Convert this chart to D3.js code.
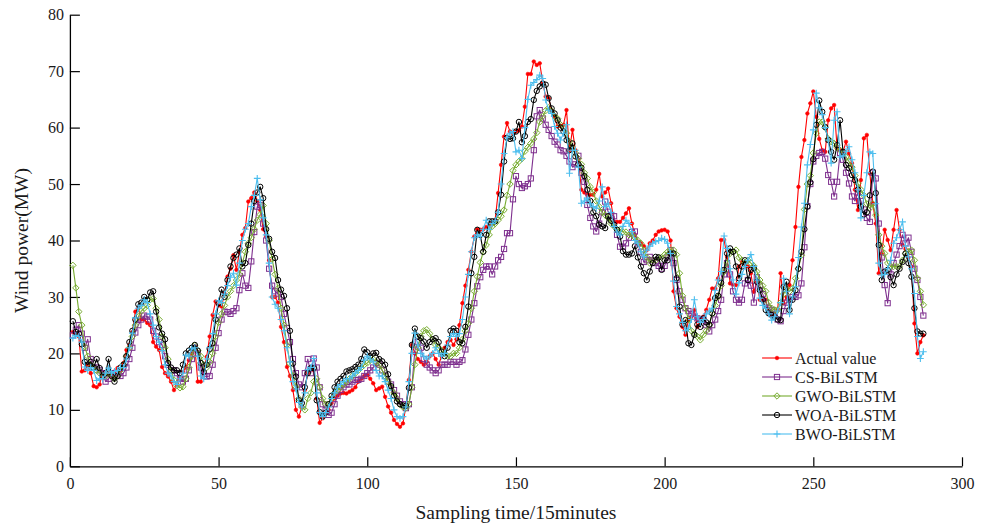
<!DOCTYPE html>
<html>
<head>
<meta charset="utf-8">
<script src="https://cdn.jsdelivr.net/npm/d3@7"></script>
<style>
  html, body { margin: 0; padding: 0; background: #fff; }
  svg { display: block; }
  text { font-family: "Liberation Serif", "Times New Roman", serif; fill: #1a1a1a; }
</style>
</head>
<body>
<svg id="chart" width="989" height="526"></svg>
<script>
// Wind power (MW) per 15-minute sample, samples 1..287
const actual = [
  23.8, 23.5, 23, 16.8, 17, 17.9, 16.5, 14.2, 14, 14.5,
  16.5, 16.3, 16.2, 16, 16.8, 17.4, 17, 18.3, 20.6, 21.5,
  23.8, 27.4, 28, 26, 26, 25.4, 25, 22, 21.2, 20.6,
  17.6, 16.5, 15.9, 15, 13.5, 14.5, 15.5, 16.7, 17.5, 18.8,
  20, 21.2, 15, 15, 17, 19.4, 23, 26.8, 29.2, 28.5,
  28.3, 30.6, 33.6, 35, 37.4, 34.8, 38, 41, 42.2, 46.9,
  47.5, 48.5, 47, 45.4, 42, 40.7, 36.5, 30, 30, 29,
  24.7, 22, 17.6, 16, 13.5, 10, 8.8, 10.5, 13.5, 16.5,
  17.5, 17, 12, 7.7, 8.5, 9.4, 10, 11.2, 12, 12.5,
  12.9, 13, 12.9, 13.2, 13.5, 14, 15, 15.5, 16, 16.2,
  15.5, 14.7, 13.5, 13.8, 14.1, 12.3, 10.6, 9.5, 8.2, 7.5,
  7, 7.6, 10.6, 15.3, 21.5, 20, 19, 18.5, 18, 18.5,
  19.5, 20, 19, 18, 19.5, 21, 22, 22.4, 21.5, 22.5,
  25, 28.9, 32, 34.8, 38, 40.7, 42, 41.9, 42, 42.4,
  42.5, 43, 43.6, 48.4, 53.4, 58.4, 60.8, 59.3, 59, 59.3,
  59.5, 60.2, 63.7, 69.5, 69.5, 71.7, 71.1, 71.4, 68, 65.5,
  65.2, 63, 61.9, 60.2, 60.3, 60.5, 63.1, 56, 59.6, 56,
  54.3, 49, 48.5, 48.1, 48.1, 48.1, 49, 51.8, 47.8, 48.5,
  49.2, 46.6, 43.3, 43.3, 43.3, 44, 44.8, 45.7, 43, 41,
  39.8, 39.5, 39, 38.3, 39.5, 40, 41, 41.6, 41.8, 41.9,
  41.6, 40, 31, 28, 26.5, 24.7, 23.3, 25.9, 26.5, 27.7,
  24.7, 25.9, 26.5, 27.7, 29.5, 31.5, 31.5, 33.3, 40.1, 40.1,
  37.1, 32.4, 32.2, 32.1, 35.4, 36.2, 36, 35.4, 34.2, 30.9,
  32.7, 29.5, 29.5, 29.5, 27.1, 26.5, 27, 27.7, 34.2, 28.9,
  30, 32.1, 36.5, 42.4, 49.5, 54.8, 57.8, 62.5, 64.3, 66.4,
  61.9, 58, 56, 55.7, 61.3, 63.4, 64, 56.3, 56, 55.7,
  57.5, 55.4, 53.7, 49, 45.4, 50.7, 58.1, 58.7, 51.9, 46.6,
  43, 34.2, 37.7, 41.9, 40.1, 38.3, 41.9, 45.4, 41.9, 39.2,
  38.5, 37, 35.4, 25.3, 20, 22, 23.2
];

const csBiLSTM = [
  23.2, 24.2, 25, 23.5, 21, 22.5, 19, 17.5, 17.5, 17,
  16.5, 15, 15.5, 16.5, 16.5, 16, 16, 16.5, 17.5, 19,
  21, 23.7, 25, 26, 26.7, 26.5, 26, 24, 23, 22,
  21.5, 19.5, 18, 17, 17, 16.5, 15.5, 15, 15.5, 17,
  19, 21, 20, 17.5, 16, 15.9, 16, 18, 21, 23.6,
  26, 27.4, 27.3, 27, 27.5, 28, 31.2, 34.2, 32, 31.6,
  36.3, 41.5, 46, 46.3, 43, 40, 35, 32, 31, 30.6,
  30, 27, 24.5, 22, 19, 16.5, 14.5, 14, 16.5, 19,
  16.5, 19.1, 17.5, 14, 11, 10, 9.1, 9.5, 11, 12.5,
  13.5, 14, 14.5, 14.5, 15, 15.3, 15.3, 15.5, 16, 16.5,
  17, 17.5, 18.3, 18, 17, 16, 15, 14.5, 13.5, 12.5,
  11.5, 11, 10.3, 11, 14, 20.5, 22, 21, 19, 18,
  17.5, 17, 16.5, 17, 18, 18, 18, 18.5, 18.5, 18,
  18.5, 18.8, 20.7, 23.3, 26, 28.9, 31.9, 33.5, 34.8, 35.4,
  35.4, 34, 35.4, 36.5, 37.1, 38.5, 41.3, 41.3, 47.3, 51.4,
  50, 49.3, 49.6, 50, 51, 56, 62, 63.1, 61.6, 60.5,
  59.6, 58.5, 57.5, 57, 56, 55.8, 55, 54, 53, 53.5,
  55, 52, 50.4, 46.3, 44, 42.5, 41.6, 43, 45, 46.9,
  45.1, 44.5, 44.3, 41, 38.9, 38.9, 39.5, 40.5, 41.5, 41.6,
  39.5, 38, 36.2, 36.5, 37.1, 36.5, 36, 35.5, 35, 35.5,
  37, 38.3, 36, 33, 31, 29.5, 28, 27.5, 27, 26.5,
  26.2, 26, 25.9, 25, 23.9, 25, 26, 27.5, 29.5, 34,
  36, 34, 31, 29.5, 29, 29.5, 32.4, 33, 32, 29,
  33.5, 32, 30.5, 29, 28, 27.7, 27, 26, 25.7, 27.5,
  29, 29.5, 30, 30, 30.3, 32.4, 38.8, 46.1, 50, 54,
  55, 55.5, 55.7, 54.5, 51.6, 50.4, 47.8, 50.4, 55.5, 54.3,
  52, 50.1, 47.8, 47, 48.5, 47, 45.5, 44, 43.3, 52,
  51, 43, 37, 32.1, 28.9, 34, 36, 37.5, 39, 41,
  39.5, 40.5, 38, 35, 33, 30, 26.7
];

const gwoBiLSTM = [
  35.6, 31.6, 27.4, 25, 21.2, 19.5, 18, 17.5, 17, 16.5,
  16, 16, 16.5, 16, 15.5, 16, 17, 18, 19.5, 21,
  23, 25, 26.5, 27.5, 28, 28.5, 29.5, 29.7, 28, 26,
  23, 21, 19, 17, 15.3, 14.3, 13.9, 14.1, 15.5, 17.5,
  19.5, 21.4, 20.5, 19.5, 18, 17.5, 18.5, 20, 23, 25.5,
  27, 28.5, 30, 31, 32, 33, 34, 36, 38, 39.5,
  40.5, 42, 43.6, 44.6, 46.2, 43, 40, 36.7, 34, 31.5,
  28, 25, 21.5, 18.2, 16, 14.1, 12, 10.5, 10, 12,
  13, 15, 15.5, 14, 12, 11, 11, 12, 13, 13.5,
  14, 14.5, 15, 15.5, 16, 16.5, 17, 17.5, 18, 18.3,
  18.8, 19, 18.5, 18, 17, 16, 15, 14, 13, 12,
  11, 10.5, 10.3, 11, 14, 18, 21, 23, 24, 24.2,
  23.5, 22.5, 21.5, 21, 20.5, 20, 19.5, 19.5, 20, 20,
  21, 22.5, 24, 25.3, 28, 31, 33.6, 36.1, 38, 39.2,
  41, 42.5, 43, 43.6, 44.3, 45.4, 48, 50, 52.4, 53.4,
  54, 54.5, 55.8, 56.5, 57.2, 58, 59.1, 61, 62, 63,
  63.5, 63, 62, 61.6, 60.5, 60, 59, 57.5, 56.5, 55.5,
  54.5, 53.5, 52, 51, 49.5, 48.5, 47, 46, 45, 44.5,
  44, 43, 42.5, 42, 41.9, 41.5, 41.5, 41, 41, 40.5,
  40, 39.5, 38.3, 37, 36, 36.5, 36.5, 37, 37, 37.5,
  38, 38.3, 38.3, 37.5, 34.2, 30.2, 28, 26, 24, 23.5,
  23, 22.4, 23.3, 24, 25, 27, 28.5, 30, 32, 34.5,
  36, 37.7, 38, 38.3, 37, 36.5, 36, 36.5, 36, 35.5,
  34.5, 33, 32, 31, 29, 28, 27.7, 27.7, 29, 30.5,
  31.5, 31, 31.5, 33.3, 35, 37.4, 45.5, 50, 51.5, 55.5,
  59, 61, 61, 60, 58, 57.5, 57.2, 56.5, 56, 55.5,
  54.8, 54, 53, 51.5, 50.1, 49, 48, 46.5, 45.7, 46.5,
  44.5, 41, 39, 37.7, 36, 35.4, 35.4, 35.4, 35.4, 36.5,
  37.7, 38, 38.3, 36.5, 33.3, 31, 28.6
];

const woaBiLSTM = [
  25.7, 23.8, 23.5, 21.6, 18.5, 18, 18.5, 17.5, 19, 17.4,
  16, 16.5, 19, 16, 15, 16, 17.5, 18, 19.5, 22,
  24, 26, 28.7, 29, 30, 29.5, 30.8, 31, 27.4, 24.6,
  23.5, 22.5, 18.3, 17.5, 17, 17, 16.5, 18, 20, 20.5,
  21, 21.5, 20.5, 18.3, 16.7, 18, 20.8, 21.8, 26, 28.9,
  31.3, 30, 33, 35.4, 36.9, 37.5, 38.6, 35.4, 36, 39.2,
  43, 47, 48.5, 49.5, 47.5, 42, 40.3, 38, 36.9, 33,
  31.3, 30.2, 28, 24, 18.2, 15.9, 11.7, 11.2, 14, 16.5,
  17.4, 17.4, 11.7, 9.6, 8.8, 9.5, 11, 12.5, 14, 15,
  15.5, 16, 16.8, 17, 17.2, 17.6, 18, 19, 20.7, 20.2,
  19.5, 20, 20.1, 19, 18.6, 18, 16.3, 14.2, 12.5, 11.5,
  11, 10.8, 10.7, 13.9, 21.5, 24.4, 23, 22.7, 22.1, 21,
  22, 22.5, 22.7, 22, 20.3, 19.5, 21, 24, 24.4, 24,
  22, 21.8, 24.7, 28.3, 34.2, 37.1, 41.9, 41, 38, 41,
  43.4, 43.4, 43.4, 45, 48.1, 54, 58.2, 58, 58.1, 59.3,
  61, 57.4, 58.5, 61, 61.5, 64.9, 66.5, 67.3, 67.8, 67.6,
  65.2, 63.4, 62.5, 61.3, 60, 59.3, 57.8, 56, 57.2, 54.9,
  53.5, 52.9, 51.4, 49, 47, 45, 44.3, 42.8, 42.5, 42.2,
  44.3, 43.5, 42.8, 41.9, 40.7, 38.1, 37.5, 37.5, 37.7, 39,
  37, 35.4, 34.2, 33, 34.5, 36, 37.1, 37, 34.8, 36.5,
  36.5, 37.7, 37.7, 33.3, 28.3, 25.1, 25.9, 21.8, 21.5, 23.3,
  25.1, 24.7, 26.2, 25.5, 25.1, 27.1, 29.8, 30.2, 32.5, 34.8,
  37.7, 38.6, 38, 35.4, 33.3, 35.4, 36.5, 33, 34.8, 35.1,
  32.7, 31.2, 29.5, 27.7, 27.1, 26.8, 26.5, 26, 25.9, 31.8,
  32.7, 27.7, 29.5, 31.2, 35, 38, 42, 46, 50.3, 54.4,
  60.5, 64.8, 62.8, 60.1, 57.8, 55.7, 54.3, 56.9, 61.3, 55.7,
  53.4, 52.8, 51.6, 50.7, 49, 46, 44.6, 45, 48, 52.2,
  48.4, 39.2, 33, 34.5, 34.8, 33.5, 32.1, 34, 35, 36.2,
  37.7, 36, 33.6, 28, 23.9, 23.5, 23.5
];

const bwoBiLSTM = [
  22.7, 23.2, 23, 22, 17.6, 17, 17.5, 17, 15.2, 15.5,
  15.5, 16.5, 17.4, 16.5, 16.8, 17, 17.5, 17.5, 19, 21,
  23.6, 26.3, 28, 28.5, 29.5, 29, 27, 25, 23, 22,
  20.5, 18, 16.5, 16, 15, 14.5, 15.5, 16.5, 19.7, 19.5,
  20.8, 21, 19.5, 16, 15.5, 19, 21, 23.5, 27, 29.3,
  29, 30.5, 32, 33.5, 34.2, 32.1, 36, 40, 42, 43,
  46, 48, 51, 47.2, 44, 41, 36, 30, 28.7, 28,
  26, 24, 21, 18.5, 15, 13.7, 11.3, 10.5, 13, 17.1,
  17.5, 19.1, 13, 9.5, 8.8, 9.5, 10.5, 12, 13, 14,
  14.5, 15, 15.5, 15.5, 16, 16.5, 17, 17.5, 18.8, 19.5,
  19, 18.5, 17, 16, 16, 15, 13.5, 12, 10, 8.8,
  8.5, 8.8, 10.5, 15, 20, 23.6, 21.5, 20, 19.5, 19,
  19.5, 20, 21, 20, 19.5, 20, 21.5, 23, 23.5, 23,
  23.5, 26, 30, 34, 38, 40.5, 41, 40.7, 42, 43.6,
  42, 43, 43.5, 45, 50, 55.4, 58.2, 59, 59.3, 55.7,
  56, 54.5, 60, 65, 67.5, 68, 68.5, 69.3, 68.7, 64.9,
  63.1, 62.5, 60.2, 59, 57.8, 59, 60.5, 51.9, 56, 56,
  53, 46.6, 47, 47.5, 46.5, 46, 45.7, 47, 49.5, 46,
  46.6, 45, 42.5, 41.5, 41, 42.5, 43.6, 43, 41.6, 40,
  39.5, 38, 37.1, 38.3, 39, 39.5, 39.8, 40, 40.4, 40.2,
  39.5, 37.7, 32.8, 28.3, 27, 25.5, 24, 24.5, 26, 29.5,
  26.5, 25.5, 26, 27, 27.5, 28, 31.2, 33, 34.5, 40.8,
  38.6, 35, 33, 30.5, 32.5, 34, 35.4, 36.5, 37.5, 35.4,
  33, 29.8, 28.5, 28, 27, 25.9, 26.5, 27.5, 29, 33.3,
  31, 27, 30, 31.8, 37, 42.4, 46.6, 53.4, 57, 59.6,
  66.1, 63.5, 62.3, 60, 57.8, 53.7, 61.3, 62.8, 54.8, 55,
  55.8, 56.6, 54.3, 52, 49, 44, 48, 52, 55.7, 55.4,
  46.5, 36, 33.9, 34, 35, 36.5, 39.5, 40.5, 41.9, 43.3,
  39, 37.1, 35, 30.6, 23, 19.1, 20.3
];

const seriesNames = ["Actual value", "CS-BiLSTM", "GWO-BiLSTM", "WOA-BiLSTM", "BWO-BiLSTM"];
const xTicks = [0, 50, 100, 150, 200, 250, 300];
const yTicks = [0, 10, 20, 30, 40, 50, 60, 70, 80];

const series = [
  { name: seriesNames[0], values: actual,    color: "#FF0000", marker: "dot" },
  { name: seriesNames[1], values: csBiLSTM,  color: "#7E2F8E", marker: "square" },
  { name: seriesNames[2], values: gwoBiLSTM, color: "#77AC30", marker: "diamond" },
  { name: seriesNames[3], values: woaBiLSTM, color: "#000000", marker: "circle" },
  { name: seriesNames[4], values: bwoBiLSTM, color: "#4DBEEE", marker: "plus" }
];

const svg = d3.select("#chart");
const x = d3.scaleLinear().domain([0, 300]).range([69.9, 962]);
const y = d3.scaleLinear().domain([0, 80]).range([466.3, 14.7]);

// axes: ticks point into the plot area
const xAxis = svg.append("g")
  .attr("transform", `translate(0,${y(0)})`)
  .call(d3.axisBottom(x).tickValues(xTicks).tickFormat(d3.format("d"))
    .tickSizeInner(-9).tickSizeOuter(0).tickPadding(11));
const yAxis = svg.append("g")
  .attr("transform", `translate(${x(0)},0)`)
  .call(d3.axisLeft(y).tickValues(yTicks).tickFormat(d3.format("d"))
    .tickSizeInner(-10).tickSizeOuter(0).tickPadding(6));

[xAxis, yAxis].forEach(g => {
  g.selectAll("path.domain").attr("stroke", "#000").attr("stroke-width", 1.3);
  g.selectAll(".tick line").attr("stroke", "#000").attr("stroke-width", 1.2);
  g.selectAll(".tick text")
    .style("font-family", '"Liberation Serif", "Times New Roman", serif')
    .style("font-size", "16px").attr("fill", "#1a1a1a");
});

svg.append("text")
  .attr("x", (x(0) + x(300)) / 2).attr("y", 519)
  .attr("text-anchor", "middle").style("font-size", "19.5px")
  .text("Sampling time/15minutes");

svg.append("text")
  .attr("transform", `translate(28,${(y(0) + y(80)) / 2}) rotate(-90)`)
  .attr("text-anchor", "middle").style("font-size", "19.5px")
  .text("Wind power(MW)");

// marker drawing helper
function drawMarker(g, kind, color) {
  if (kind === "dot") {
    g.append("circle").attr("r", 1.8).attr("fill", color).attr("stroke", color).attr("stroke-width", 0.6);
  } else if (kind === "square") {
    g.append("rect").attr("x", -2.6).attr("y", -2.6).attr("width", 5.2).attr("height", 5.2)
      .attr("fill", "none").attr("stroke", color).attr("stroke-width", 1);
  } else if (kind === "diamond") {
    g.append("path").attr("d", "M0,-3.2L3.2,0L0,3.2L-3.2,0Z")
      .attr("fill", "none").attr("stroke", color).attr("stroke-width", 1);
  } else if (kind === "circle") {
    g.append("circle").attr("r", 2.7).attr("fill", "none").attr("stroke", color).attr("stroke-width", 1);
  } else if (kind === "plus") {
    g.append("path").attr("d", "M-3.4,0H3.4M0,-3.4V3.4")
      .attr("fill", "none").attr("stroke", color).attr("stroke-width", 1.1);
  }
}

const line = d3.line().x((d, i) => x(i + 1)).y(d => y(d));

const plot = svg.append("g");
series.forEach(s => {
  const g = plot.append("g");
  g.append("path").datum(s.values)
    .attr("d", line).attr("fill", "none")
    .attr("stroke", s.color).attr("stroke-width", 1.1).attr("stroke-linejoin", "round");
  g.selectAll("g.m").data(s.values).join("g")
    .attr("class", "m")
    .attr("transform", (d, i) => `translate(${x(i + 1)},${y(d)})`)
    .each(function () { drawMarker(d3.select(this), s.marker, s.color); });
});

// legend (no frame)
const legend = svg.append("g").attr("transform", "translate(762,358)");
series.forEach((s, k) => {
  const row = legend.append("g").attr("transform", `translate(0,${k * 19})`);
  row.append("line").attr("x1", 0).attr("x2", 30).attr("y1", 0).attr("y2", 0)
    .attr("stroke", s.color).attr("stroke-width", 1.1);
  drawMarker(row.append("g").attr("transform", "translate(15,0)"), s.marker, s.color);
  row.append("text").attr("x", 33).attr("y", 5.5).style("font-size", "16px").text(s.name);
});
</script>
</body>
</html>
